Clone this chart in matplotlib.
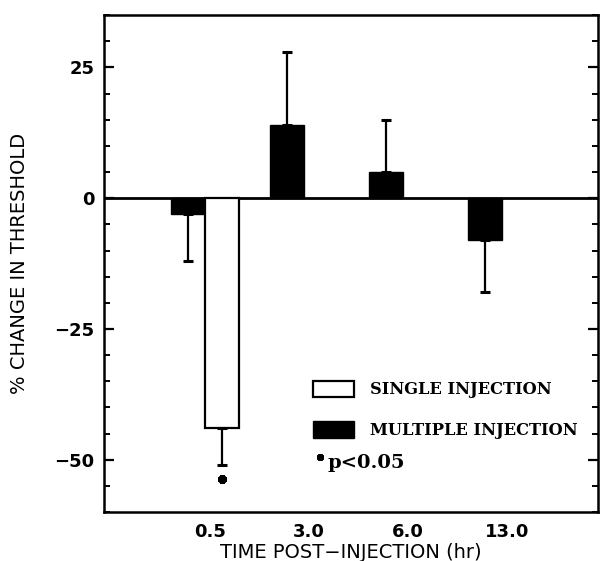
import numpy as np
import matplotlib
matplotlib.use("Agg")
import matplotlib.pyplot as plt
from matplotlib.ticker import MultipleLocator

# --- data ---
times = ["0.5", "3.0", "6.0", "13.0"]
multiple = [-3, 14, 5, -8]
multiple_err = [9, 14, 10, 10]
single_time = "0.5"
single = [-44]
single_err = [7]
sig_y = -53.6  # asterisk under the single-injection bar

x = np.arange(len(times))
width = 0.34

fig = plt.figure(figsize=(6, 5.61), dpi=100)
ax = fig.add_axes([0.1733, 0.0873, 0.8234, 0.8857])

# one-sided error bars, pointing away from zero
m_lo = [e if v < 0 else 0 for v, e in zip(multiple, multiple_err)]
m_hi = [e if v >= 0 else 0 for v, e in zip(multiple, multiple_err)]
multi_bars = ax.bar(x, multiple, width, color="black", edgecolor="black",
                    yerr=[m_lo, m_hi], capsize=3.6,
                    error_kw=dict(elinewidth=1.6, capthick=2.2, ecolor="black"),
                    label="MULTIPLE INJECTION", zorder=3)

xs = x[times.index(single_time)] + width
single_bars = ax.bar([xs], single, width, color="white", edgecolor="black", linewidth=1.6,
                     yerr=[single_err, [0]], capsize=3.6,
                     error_kw=dict(elinewidth=1.6, capthick=2.2, ecolor="black"),
                     label="SINGLE INJECTION", zorder=3)
ax.plot([xs], [sig_y], marker=(8, 2, 0), ms=6, mew=2.6, color="black", zorder=4)

ax.axhline(0, color="black", lw=2.0, zorder=2)

ax.set_xlim(-0.85, 4.14)
ax.set_ylim(-60, 35)
ax.set_xticks(x + 0.22)
ax.set_xticklabels(times)
ax.tick_params(axis="x", length=0, pad=8)
ax.yaxis.set_major_locator(MultipleLocator(25))
ax.yaxis.set_minor_locator(MultipleLocator(5))
ax.tick_params(axis="y", which="major", direction="in", length=7.5, width=1.6,
               right=True, pad=7)
ax.tick_params(axis="y", which="minor", direction="in", length=4, width=1.4, right=True)
for lab in ax.get_xticklabels() + ax.get_yticklabels():
    lab.set_fontweight("bold")
    lab.set_fontsize(13)
    lab.set_family("DejaVu Sans")

for s in ax.spines.values():
    s.set_linewidth(1.8)

ax.set_xlabel("TIME POST\u2212INJECTION (hr)", fontsize=14, family="DejaVu Sans", labelpad=1)
ax.set_ylabel("% CHANGE IN THRESHOLD", fontsize=14, family="DejaVu Sans", labelpad=18)

leg = ax.legend(handles=[single_bars, multi_bars],
                labels=["SINGLE INJECTION", "MULTIPLE INJECTION"],
                loc="upper left", bbox_to_anchor=(0.393, 0.294), frameon=False,
                prop=dict(family="DejaVu Serif", weight="bold", size=11.7),
                handlelength=2.55, handleheight=1.2, handletextpad=1.0, labelspacing=1.4)
ax.plot([0.437], [0.111], marker=(8, 2, 0), ms=5, mew=2.2, color="black",
        transform=ax.transAxes, clip_on=False)
ax.text(0.453, 0.098, "p<0.05", transform=ax.transAxes, fontsize=14,
        family="DejaVu Serif", weight="bold", va="center")

fig.savefig("out.png", dpi=100)
